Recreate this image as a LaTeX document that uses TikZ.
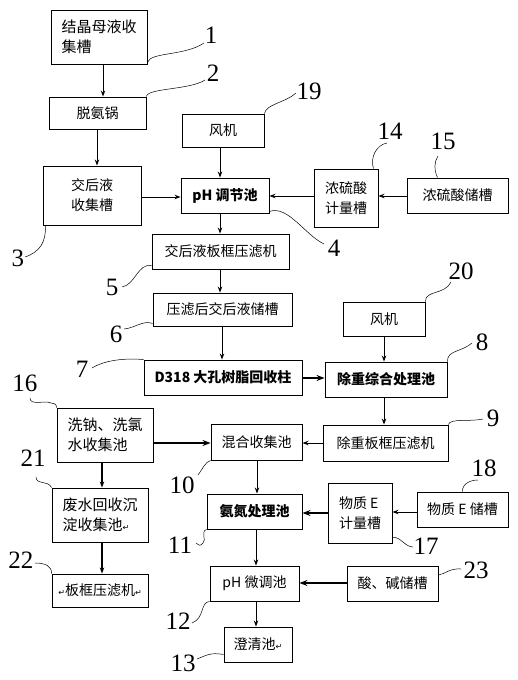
\documentclass[tikz,border=0pt]{standalone}
\usepackage{fontspec}
\setmainfont{Liberation Serif}
\newfontfamily\cjk{Noto Sans CJK SC}
\newfontfamily\dvs{DejaVu Sans}
\newcommand\ret{{\dvs\fontsize{8}{8}\selectfont ↵}}
\usetikzlibrary{arrows.meta}
\tikzset{
  box/.style={draw, line width=0.9pt, inner sep=0pt, align=left, font=\cjk\fontsize{14}{20}\selectfont},
  bigbox/.style={box, font=\cjk\fontsize{15}{20}\selectfont},
  boldbox/.style={box, font=\cjk\bfseries\fontsize{14}{20}\selectfont},
  arr/.style={-{Stealth[length=6pt,width=4.5pt]}, line width=1pt},
  tarr/.style={-{Stealth[length=8pt,width=6pt]}, line width=2pt},
  lead/.style={line width=0.5pt},
  num/.style={font=\fontsize{25}{25}\selectfont, inner sep=0pt}
}
\begin{document}
\begin{tikzpicture}[x=1pt,y=-1pt]
\fill[white] (0,0) rectangle (517,680);
\useasboundingbox (0,0) rectangle (517,680);

% boxes
\node[bigbox, minimum width=96pt, minimum height=54pt] (b1) at (99,37) {结晶母液收\\集槽};
\node[box, minimum width=97pt, minimum height=32pt] (b2) at (97.5,113) {脱氨锅};
\node[box, minimum width=98pt, minimum height=59pt] (b3) at (92,195.5) {交后液\\收集槽};
\node[boldbox, minimum width=88pt, minimum height=35pt] (b4) at (225,195.5) {pH 调节池};
\node[box, minimum width=82pt, minimum height=33pt] (b19) at (223,130.5) {风机};
\node[box, minimum width=64pt, minimum height=58pt] (b14) at (346,198) {浓硫酸\\计量槽};
\node[box, minimum width=101pt, minimum height=35pt] (b15) at (457.5,195.5) {浓硫酸储槽};
\node[box, minimum width=137pt, minimum height=35pt] (b5) at (220.5,251.5) {交后液板框压滤机};
\node[box, minimum width=139pt, minimum height=33pt] (b6) at (222.5,309.5) {压滤后交后液储槽};
\node[boldbox, minimum width=158pt, minimum height=35pt] (b7) at (223,377.5) {D318 大孔树脂回收柱};
\node[box, minimum width=82pt, minimum height=34pt] (b20) at (384,319) {风机};
\node[boldbox, minimum width=122pt, minimum height=35pt] (b8) at (386,379.5) {除重综合处理池};
\node[bigbox, minimum width=96pt, minimum height=54pt] (b16) at (105,435) {洗钠、洗氯\\水收集池};
\node[box, minimum width=91pt, minimum height=36pt] (b10) at (256.5,442) {混合收集池};
\node[box, minimum width=125pt, minimum height=36pt] (b9) at (385.5,443) {除重板框压滤机};
\node[boldbox, minimum width=95pt, minimum height=35pt] (b11) at (254.5,511.5) {氨氮处理池};
\node[box, minimum width=64pt, minimum height=60pt] (b17) at (360,513) {物质 E\\计量槽};
\node[box, minimum width=91pt, minimum height=35pt] (b18) at (462.5,509.5) {物质 E 储槽};
\node[bigbox, minimum width=96pt, minimum height=54pt] (b21) at (100,515) {废水回收沉\\淀收集池\ret};
\node[box, minimum width=96pt, minimum height=33pt] (b22) at (100,590.5) {\ret 板框压滤机\ret};
\node[box, minimum width=89pt, minimum height=35pt] (b12) at (254.5,583.5) {pH 微调池};
\node[box, minimum width=91pt, minimum height=35pt] (b23) at (392.5,583.5) {酸、碱储槽};
\node[box, minimum width=68pt, minimum height=35pt] (b13) at (258,644.5) {澄清池\ret};

% arrows
\draw[arr] (b1.south -| 103,0) -- (b2.north -| 103,0);
\draw[arr] (b2.south -| 97,0) -- (b3.north -| 97,0);
\draw[arr] (b3.east |- 0,197) -- (b4.west |- 0,197);
\draw[arr] (b19.south -| 220,0) -- (b4.north -| 220,0);
\draw[arr] (b15.west |- 0,196) -- (b14.east |- 0,196);
\draw[arr] (b14.west |- 0,196) -- (b4.east |- 0,196);
\draw[arr] (b4.south -| 220,0) -- (b5.north -| 220,0);
\draw[arr] (b5.south -| 220,0) -- (b6.north -| 220,0);
\draw[arr] (b6.south -| 222,0) -- (b7.north -| 222,0);
\draw[arr] (b20.south -| 384,0) -- (b8.north -| 384,0);
\draw[tarr] (b7.east |- 0,378) -- (b8.west |- 0,378);
\draw[arr] (b8.south -| 384,0) -- (b9.north -| 384,0);
\draw[arr] (b9.west |- 0,443) -- (b10.east |- 0,443);
\draw[tarr] (b16.east |- 0,443) -- (b10.west |- 0,443);
\draw[arr] (b10.south -| 257,0) -- (b11.north -| 257,0);
\draw[arr] (b18.west |- 0,512) -- (b17.east |- 0,512);
\draw[tarr] (b17.west |- 0,513) -- (b11.east |- 0,513);
\draw[arr, line width=1.5pt] (b16.south -| 102,0) -- (b21.north -| 102,0);
\draw[arr, line width=1.5pt] (b21.south -| 102,0) -- (b22.north -| 102,0);
\draw[arr] (b11.south -| 256,0) -- (b12.north -| 256,0);
\draw[tarr] (b23.west |- 0,583) -- (b12.east |- 0,583);
\draw[arr] (b12.south -| 256,0) -- (b13.north -| 256,0);

% number labels
\node[num] (n1) at (211,35) {1};
\node[num] (n2) at (213,73) {2};
\node[num] (n3) at (18,258) {3};
\node[num] (n4) at (334,248) {4};
\node[num] (n5) at (112,287) {5};
\node[num] (n6) at (116,334) {6};
\node[num] (n7) at (82,369) {7};
\node[num] (n8) at (482,342) {8};
\node[num] (n9) at (493,418) {9};
\node[num] (n10) at (182,485) {10};
\node[num] (n11) at (180,545) {11};
\node[num] (n12) at (178,621) {12};
\node[num] (n13) at (183,663) {13};
\node[num] (n14) at (390,131) {14};
\node[num] (n15) at (443,141) {15};
\node[num] (n16) at (25,383) {16};
\node[num] (n17) at (426,546) {17};
\node[num] (n18) at (484,468) {18};
\node[num] (n19) at (309,91) {19};
\node[num] (n20) at (461,271) {20};
\node[num] (n21) at (33,458) {21};
\node[num] (n22) at (21,560) {22};
\node[num] (n23) at (476,570) {23};

% leader end points
\coordinate (e1) at (204,43);
\coordinate (e2) at (205,80);
\coordinate (e3) at (25,257);
\coordinate (e4) at (324,244);
\coordinate (e5) at (122,287);
\coordinate (e6) at (124,329);
\coordinate (e7) at (92,368);
\coordinate (e8) at (472,343);
\coordinate (e9) at (483,419);
\coordinate (e10) at (198,475);
\coordinate (e11) at (196,543);
\coordinate (e12) at (192,623);
\coordinate (e13) at (197,659);
\coordinate (e14) at (387,143);
\coordinate (e15) at (438,156);
\coordinate (e16) at (30,398);
\coordinate (e17) at (413,547);
\coordinate (e18) at (478,480);
\coordinate (e19) at (296,93);
\coordinate (e20) at (451,282);
\coordinate (e21) at (36,477);
\coordinate (e22) at (35,563);
\coordinate (e23) at (461,569);

% leaders
\draw[lead] ([yshift=2pt]b1.south east) .. controls (150,52) and (185,56) .. (e1);
\draw[lead] (b2.north east) .. controls (147,88) and (190,90) .. (e2);
\draw[lead] ([xshift=3pt]b3.south west) .. controls (46,242) and (40,252) .. (e3);
\draw[lead] ([yshift=2pt]b4.south east) .. controls (288,205) and (305,235) .. (e4);
\draw[lead] ([yshift=4pt]b5.south west) .. controls (138,263) and (135,285) .. (e5);
\draw[lead] ([yshift=3pt]b6.south west) .. controls (143,320) and (135,328) .. (e6);
\draw[lead] (b7.north west) .. controls (125,358) and (105,360) .. (e7);
\draw[lead] (b8.north east) .. controls (447,350) and (462,352) .. (e8);
\draw[lead] (b9.north east) .. controls (450,418) and (470,422) .. (e9);
\draw[lead] (b10.south west) .. controls (205,462) and (202,470) .. (e10);
\draw[lead] (b11.south west) .. controls (200,532) and (207,540) .. (203,543) .. controls (200,546) .. (e11);
\draw[lead] (b12.south west) .. controls (200,602) and (205,618) .. (e12);
\draw[lead] ([yshift=8pt]b13.south west) .. controls (210,652) and (205,656) .. (e13);
\draw[lead] ([xshift=-5pt]b14.north east) .. controls (370,158) and (376,145) .. (e14);
\draw[lead] ([xshift=-20pt]b15.north) .. controls (434,170) and (434,162) .. (e15);
\draw[lead] (e16) .. controls (30,406) and (45,400) .. (51,403) .. controls (56,404) .. (b16.north west);
\draw[lead] ([yshift=6pt]b17.south east) .. controls (400,536) and (405,547) .. (e17);
\draw[lead] (b18.north) .. controls (462,484) and (470,480) .. (e18);
\draw[lead] (b19.north east) .. controls (266,104) and (285,103) .. (e19);
\draw[lead] (b20.north east) .. controls (425,290) and (445,295) .. (e20);
\draw[lead] (e21) .. controls (36,485) and (48,480) .. (b21.north west);
\draw[lead] (e22) .. controls (45,563) and (52,566) .. (b22.north west);
\draw[lead] ([yshift=8.5pt]b23.east) .. controls (445,574) and (450,568) .. (e23);
\end{tikzpicture}
\end{document}
